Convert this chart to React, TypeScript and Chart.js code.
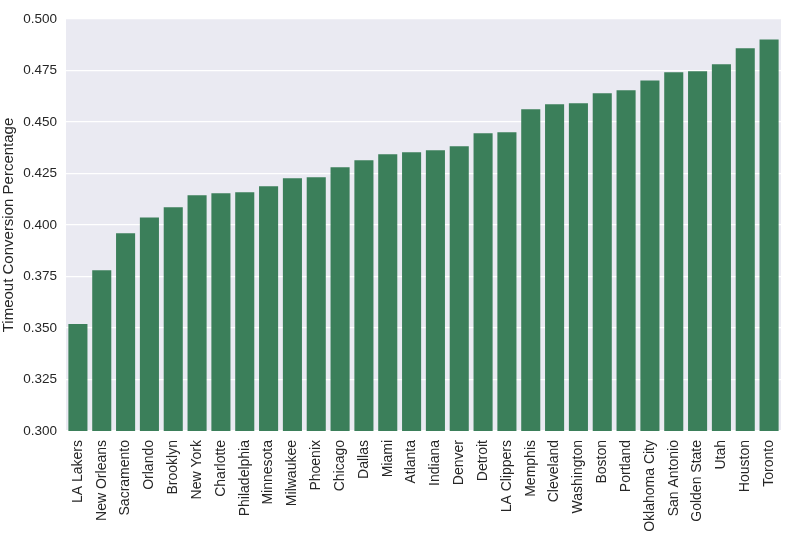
import React, { useEffect, useRef } from "react";
import { Chart, registerables } from "chart.js";

Chart.register(...registerables);

const teams: string[] = [
  "LA Lakers", "New Orleans", "Sacramento", "Orlando", "Brooklyn", "New York",
  "Charlotte", "Philadelphia", "Minnesota", "Milwaukee", "Phoenix", "Chicago",
  "Dallas", "Miami", "Atlanta", "Indiana", "Denver", "Detroit", "LA Clippers",
  "Memphis", "Cleveland", "Washington", "Boston", "Portland", "Oklahoma City",
  "San Antonio", "Golden State", "Utah", "Houston", "Toronto",
];

const conversion: number[] = [
  0.352, 0.378, 0.396, 0.4037, 0.4086, 0.4144, 0.4154, 0.4159, 0.4188, 0.4227,
  0.4232, 0.428, 0.4314, 0.4343, 0.4353, 0.4363, 0.4382, 0.4445, 0.445,
  0.4562, 0.4586, 0.4591, 0.4639, 0.4654, 0.4702, 0.4741, 0.4746, 0.478,
  0.4858, 0.4901,
];

const yMin = 0.3;
const yMax = 0.5;
const yStep = 0.025;

const bgPlugin = {
  id: "plotBg",
  beforeDraw(chart: any) {
    const { ctx, chartArea } = chart;
    if (!chartArea) return;
    ctx.save();
    ctx.fillStyle = "#EAEAF2";
    ctx.fillRect(chartArea.left, chartArea.top, chartArea.right - chartArea.left, chartArea.bottom - chartArea.top);
    ctx.restore();
  },
};

export default function App() {
  const ref = useRef<HTMLCanvasElement | null>(null);

  useEffect(() => {
    document.body.style.margin = "0";
    if (!ref.current) return;
    const chart = new Chart(ref.current, {
      type: "bar",
      data: {
        labels: teams,
        datasets: [
          {
            label: "Timeout Conversion Percentage",
            data: conversion,
            backgroundColor: "#3B7F5A",
            borderWidth: 0,
            categoryPercentage: 1,
            barPercentage: 0.8,
          },
        ],
      },
      options: {
        animation: false,
        responsive: true,
        maintainAspectRatio: false,
        layout: { padding: { top: 19, right: 19, left: 0, bottom: 0 } },
        plugins: {
          legend: { display: false },
          tooltip: { enabled: false },
        },
        scales: {
          x: {
            grid: { display: false, drawTicks: false },
            border: { display: false },
            ticks: {
              minRotation: 90,
              maxRotation: 90,
              autoSkip: false,
              padding: 9,
              color: "#262626",
              font: { family: "'Liberation Sans', Arial, sans-serif", size: 14 },
            },
            afterFit(scale: any) {
              scale.height = 119;
            },
          },
          y: {
            min: yMin,
            max: yMax,
            grid: { color: "#FFFFFF", lineWidth: 1.3, drawTicks: false },
            border: { display: false },
            ticks: {
              stepSize: yStep,
              padding: 9,
              color: "#262626",
              font: { family: "'Liberation Sans', Arial, sans-serif", size: 13.5 },
              callback: (v: any) => Number(v).toFixed(3),
            },
            title: {
              display: true,
              text: "Timeout Conversion Percentage",
              color: "#262626",
              padding: 0,
              font: { family: "'Liberation Sans', Arial, sans-serif", size: 15 },
            },
            afterFit(scale: any) {
              scale.width = 66;
            },
          },
        },
      },
      plugins: [bgPlugin],
    });
    return () => chart.destroy();
  }, []);

  return (
    <div style={{ position: "absolute", left: 0, top: 0, width: 800, height: 550 }}>
      <canvas ref={ref} />
    </div>
  );
}
